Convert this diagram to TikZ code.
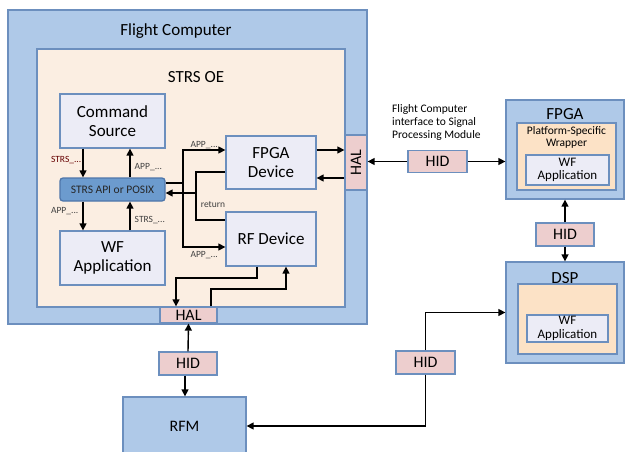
\documentclass[tikz,border=0pt]{standalone}
\usepackage{fontspec}
\setmainfont{Carlito}
\usetikzlibrary{arrows.meta}
\definecolor{fcblue}{RGB}{175,201,232}
\definecolor{edgeblue}{RGB}{108,143,190}
\definecolor{oepeach}{RGB}{251,238,226}
\definecolor{devfill}{RGB}{236,236,246}
\definecolor{apiblue}{RGB}{108,155,206}
\definecolor{apiedge}{RGB}{78,118,170}
\definecolor{hidpink}{RGB}{237,206,206}
\definecolor{wrapfill}{RGB}{252,226,198}
\begin{document}
\begin{tikzpicture}[x=1pt, y=-1pt,
    box/.style={draw=edgeblue, line width=1.3pt, inner sep=0pt, align=center},
    outer/.style={box, fill=fcblue},
    dev/.style={box, fill=devfill, font=\fontsize{17}{19}\selectfont},
    wfbox/.style={box, fill=devfill, font=\fontsize{13}{13.5}\selectfont},
    hid/.style={box, fill=hidpink, font=\fontsize{16}{18}\selectfont},
    lbl/.style={font=\fontsize{9.5}{11}\selectfont, text=black!75, inner sep=1pt},
    arr/.style={-{Triangle[length=7pt,width=7pt]}, line width=1.4pt},
    title/.style={font=\fontsize{17}{19}\selectfont}]
    \useasboundingbox (0,0) rectangle (626,452);

    % flight computer side
    \node[outer, minimum width=359, minimum height=314] (fc) at (187.5,167) {};
    \node[title] (fctitle) at (176,31) {Flight Computer};
    \node[box, fill=oepeach, minimum width=308, minimum height=258] (oe) at (191,178) {};
    \node[title] (oetitle) at (196,77) {STRS OE};
    \node[hid, minimum width=22, minimum height=55] (halr) at (356,162.5) {\rotatebox{90}{HAL}};
    \node[hid, minimum width=57, minimum height=16] (halb) at (188.5,315) {HAL};

    \node[dev, minimum width=105, minimum height=54] (cmd) at (112.5,121) {Command\\Source};
    \node[box, rounded corners=3pt, draw=apiedge, fill=apiblue, minimum width=105, minimum height=23,
        font=\fontsize{11.5}{13}\selectfont, text=black!85] (api) at (112.5,189.5) {STRS API or POSIX};
    \node[dev, minimum width=105, minimum height=54] (wf) at (112.5,258) {WF\\Application};
    \node[dev, minimum width=90, minimum height=53] (fpgadev) at (271,162.5) {FPGA\\Device};
    \node[dev, minimum width=90, minimum height=54] (rfdev) at (271,239) {RF Device};

    \draw[arr] ([xshift=-29.5pt]cmd.south) -- ([xshift=-29.5pt]api.north)
        node[lbl, left, pos=0.4, text=red!40!black] {STRS\_...};
    \draw[arr] ([xshift=17.5pt]api.north) -- ([xshift=17.5pt]cmd.south)
        node[lbl, right, pos=0.37, xshift=3pt] {APP\_...};
    \draw[arr] ([xshift=-29.5pt]api.south) -- ([xshift=-29.5pt]wf.north)
        node[lbl, left, pos=0.33, xshift=-3pt] {APP\_...};
    \draw[arr] ([xshift=17.5pt]wf.north) -- ([xshift=17.5pt]api.south)
        node[lbl, right, pos=0.37, xshift=3pt] {STRS\_...};

    \coordinate (split) at (183,183);
    \coordinate (ret) at (196,193);
    \draw[arr] ([yshift=6.5pt]api.east) -- (split) |- ([yshift=12.5pt]fpgadev.west)
        node[lbl, above, pos=0.75] {APP\_...};
    \draw[arr] (split) |- ([yshift=-8pt]rfdev.west)
        node[lbl, below, pos=0.75, yshift=-3pt] {APP\_...};
    \draw[line width=1.4pt] ([yshift=-9.5pt]fpgadev.west) -| (ret) |- ([yshift=19pt]rfdev.west);
    \draw[arr] (ret) -- (ret -| api.east);
    \node[lbl] (retlbl) at (213,205) {return};

    \draw[arr] ([yshift=12.5pt]fpgadev.east) -- ([yshift=12.5pt]fpgadev.east -| halr.west);
    \draw[arr] ([yshift=-15.5pt]fpgadev.east -| halr.west) -- ([yshift=-15.5pt]fpgadev.east);
    \draw[arr] ([xshift=-14pt]rfdev.south) |- (176,278) -- ([xshift=-12.5pt]halb.north);
    \draw[arr] ([xshift=22.5pt]halb.north) |- (286,289) -- ([xshift=15pt]rfdev.south);

    % signal processing module
    \node[outer, minimum width=118, minimum height=99] (fpga) at (565,149.5) {};
    \node[title] (fpgatitle) at (565,114) {FPGA};
    \node[box, fill=wrapfill, minimum width=99, minimum height=67] (wrap) at (566.5,156.5) {};
    \node[font=\fontsize{11.5}{12.5}\selectfont, align=center, anchor=north, inner sep=0pt] (wraptxt)
        at (566.5,126) {Platform-Specific\\Wrapper};
    \node[wfbox, minimum width=83, minimum height=30] (wf1) at (567.5,170) {WF\\Application};

    \node[outer, minimum width=118, minimum height=101] (dsp) at (565,312.5) {};
    \node[title] (dsptitle) at (565,278) {DSP};
    \node[box, fill=wrapfill, minimum width=99, minimum height=70] (dspw) at (567.5,319) {};
    \node[wfbox, minimum width=81, minimum height=27] (wf2) at (567.5,328.5) {WF\\Application};

    \node[outer, minimum width=123, minimum height=58, font=\fontsize{16}{18}\selectfont] (rfm) at (184.5,426) {RFM};

    % interfaces
    \node[hid, minimum width=59, minimum height=22] (hidm) at (437.5,161.5) {HID};
    \node[hid, minimum width=58, minimum height=23] (hidv) at (565,234.5) {HID};
    \node[hid, minimum width=59, minimum height=23] (hidl) at (425.5,362.5) {HID};
    \node[hid, minimum width=58, minimum height=23] (hidb) at (188,363.5) {HID};
    \node[font=\fontsize{11.5}{13}\selectfont, align=left, anchor=north west, inner sep=0pt] (note)
        at (392,104) {Flight Computer\\interface to Signal\\Processing Module};

    \draw[arr] (hidm.west) -- (hidm.west -| halr.east);
    \draw[arr] (hidm.east) -- (hidm.east -| fpga.west);
    \draw[arr] (hidv.north) -- (fpga.south);
    \draw[arr] (hidv.south) -- (dsp.north);
    \draw[arr] (hidl.north) |- (dsp.west);
    \draw[arr] (hidl.south) |- (rfm.east);
    \draw[arr] (hidb.north) -- (halb.south);
    \draw[arr] ([xshift=-3pt]hidb.south) -- ([xshift=-3pt]hidb.south |- rfm.north);
\end{tikzpicture}
\end{document}
